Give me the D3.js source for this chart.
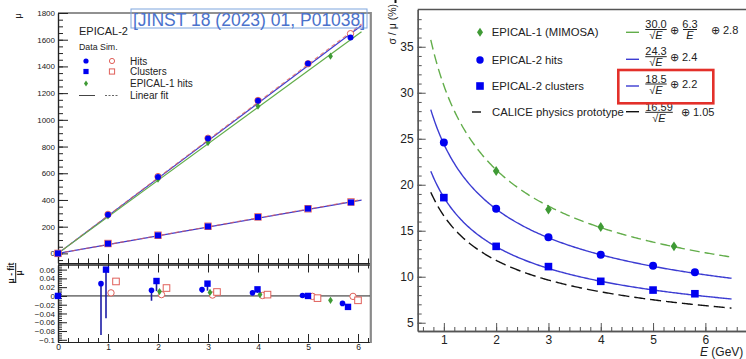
<!DOCTYPE html>
<html>
<head>
<meta charset="utf-8">
<script src="https://cdn.jsdelivr.net/npm/d3@7"></script>
<style>
  body { margin: 0; background: #fff; }
  svg { display: block; font-family: "Liberation Sans", Arial, Helvetica, sans-serif; }
  .ax path, .ax line { stroke: #222; }
  .axr path, .axr line { stroke: #555; }
</style>
</head>
<body>
<script>
// ---------- left panel: mean response mu vs E ----------
const hitsE = [1, 2, 3, 4, 5, 5.85];
const hitsMu = [290, 572, 860, 1142, 1422, 1617];
const simHitsMu = [292, 575, 862, 1145, 1420, 1645];
const clusE = [0, 1, 2, 3, 4, 5, 5.86];
const clusMu = [0, 73, 135, 202, 272, 335, 382];
const simClusMu = [0, 74, 136, 203, 273, 334, 385];
const ep1E = [1, 2, 3, 4, 5.45];
const ep1Mu = [280, 555, 830, 1102, 1477];
// linear fit slopes (mu per GeV): data hits, sim hits, EPICAL-1, data clusters, sim clusters
const fitSlopes = [281, 283, 273.5, 65.8, 66.3];
const fitEnd = 6.07;

// residuals (mu - fit)/mu, plotted at the shifted E positions
const resHitsE = [0.86, 1.87, 2.88, 3.89, 4.89, 5.69];
const resHits = [0.028, 0.013, 0.0145, 0.007, 0.001, -0.017];
const resHitsLo = [-0.089, -0.011, 0.007, 0.007, 0.001, -0.017];
const resClusE = [0, 0.96, 1.97, 2.99, 3.99, 5.0, 5.8];
const resClus = [0, 0.06, 0.034, 0.028, 0.015, 0, -0.025];
const resClusLo = [0, -0.051, 0.011, 0.012, 0.007, 0, -0.025];
const resEp1E = [2.03, 3.04, 4.04, 5.45];
const resEp1 = [0.01, 0.008, 0.003, -0.01];
const resSimHitsE = [1.06, 2.07, 3.09, 4.09, 5.09, 5.9];
const resSimHits = [0.007, 0.003, 0.002, 0.001, -0.001, -0.001];
const resSimClusE = [1.16, 2.17, 3.18, 4.19, 5.19, 6.0];
const resSimClus = [0.033, 0.018, 0.009, 0.003, -0.005, -0.01];

const muTicks = [0, 200, 400, 600, 800, 1000, 1200, 1400, 1600, 1800];
const resTicks = [-0.1, -0.08, -0.06, -0.04, -0.02, 0, 0.02, 0.04, 0.06];
const eTicksL = [0, 1, 2, 3, 4, 5, 6];

// ---------- right panel: resolution sigma/mu vs E ----------
const resE = [1, 2, 3, 4, 5, 5.8];
const resoHits = [24.6, 17.4, 14.3, 12.4, 11.2, 10.5];
const resoClus = [18.6, 13.3, 11.1, 9.5, 8.55, 8.15];
const resoEp1E = [2, 3, 4, 5.4];
const resoEp1 = [21.5, 17.3, 15.4, 13.3];
// fit parameters a/sqrt(E) (+) b/E (+) c
const fitNames = ["EPICAL-1 (MIMOSA)", "EPICAL-2 hits", "EPICAL-2 clusters", "CALICE physics prototype"];
const fitA = [30.0, 24.3, 18.5, 16.59];
const fitB = [6.3, 0, 0, 0];
const fitC = [2.8, 2.4, 2.2, 1.05];
const fitLabA = ["30.0", "24.3", "18.5", "16.59"];
const fitLabC = ["2.8", "2.4", "2.2", "1.05"];
const sigTicks = [5, 10, 15, 20, 25, 30, 35];
const eTicksR = [1, 2, 3, 4, 5, 6];

const BLUE = "#0000f0", LBLUE = "#3c3cd2", RED = "#e0605a", GREEN = "#3f9a35", LGREEN = "#62ad4a";
const intFmt = d3.format("d");

const svg = d3.select("body").append("svg").attr("width", 746).attr("height", 359);

function marker(g, type, x, y, s, color, open) {
  let el;
  if (type === "circle") el = g.append("circle").attr("cx", x).attr("cy", y).attr("r", s);
  else if (type === "square") el = g.append("rect").attr("x", x - s).attr("y", y - s).attr("width", 2 * s).attr("height", 2 * s);
  else el = g.append("path").attr("d", `M${x},${y - s * 1.5}L${x + s},${y}L${x},${y + s * 1.5}L${x - s},${y}Z`);
  if (open) el.attr("fill", "#fff").attr("stroke", color).attr("stroke-width", 1);
  else el.attr("fill", color);
  return el;
}

// ================= LEFT PANEL =================
const xL = d3.scaleLinear([0, 6.24], [58, 370]);
const yT = d3.scaleLinear([-72, 1800], [263, 13]);
const yR = d3.scaleLinear([-0.105, 0.0705], [342, 265]);
const L = svg.append("g");

// axes of upper pad
L.append("g").attr("class", "ax").attr("transform", "translate(58,0)")
  .call(d3.axisLeft(yT).tickValues(d3.range(-50, 1801, 50)).tickSize(-5).tickSizeOuter(0).tickFormat(""));
L.append("g").attr("class", "ax").attr("transform", "translate(58,0)")
  .call(d3.axisLeft(yT).tickValues(muTicks).tickSize(-10).tickSizeOuter(0).tickPadding(3).tickFormat(intFmt))
  .call(g => g.selectAll("text").attr("font-size", 8).attr("fill", "#222").attr("font-family", null));
L.append("g").attr("class", "ax").attr("transform", "translate(0,263)")
  .call(d3.axisBottom(xL).tickValues(d3.range(0, 6.21, 0.2)).tickSize(-4.5).tickSizeOuter(0).tickFormat(""));
L.append("g").attr("class", "ax").attr("transform", "translate(0,263)")
  .call(d3.axisBottom(xL).tickValues(eTicksL).tickSize(-9).tickSizeOuter(0).tickFormat(""));
L.append("line").attr("x1", 58).attr("x2", 370).attr("y1", 13).attr("y2", 13).attr("stroke", "#222");

// axes of residual pad
L.append("g").attr("class", "ax").attr("transform", "translate(58,0)")
  .call(d3.axisLeft(yR).tickValues(d3.range(-0.1, 0.0701, 0.005)).tickSize(-4).tickSizeOuter(0).tickFormat(""));
L.append("g").attr("class", "ax").attr("transform", "translate(58,0)")
  .call(d3.axisLeft(yR).tickValues(resTicks).tickSize(-9).tickSizeOuter(0).tickPadding(3).tickFormat(d => d3.format("~g")(d)))
  .call(g => g.selectAll("text").attr("font-size", 8).attr("fill", "#222").attr("font-family", null));
L.append("g").attr("class", "ax").attr("transform", "translate(0,264.5)")
  .call(d3.axisTop(xL).tickValues(d3.range(0, 6.21, 0.2)).tickSize(-4).tickSizeOuter(0).tickFormat(""));
L.append("g").attr("class", "ax").attr("transform", "translate(0,264.5)")
  .call(d3.axisTop(xL).tickValues(eTicksL).tickSize(-8).tickSizeOuter(0).tickFormat(""));
L.append("g").attr("class", "ax").attr("transform", "translate(0,342)")
  .call(d3.axisBottom(xL).tickValues(d3.range(0, 6.21, 0.2)).tickSize(-4).tickSizeOuter(0).tickFormat(""));
L.append("g").attr("class", "ax").attr("transform", "translate(0,342)")
  .call(d3.axisBottom(xL).tickValues(eTicksL).tickSize(-8).tickSizeOuter(0).tickPadding(2).tickFormat(intFmt))
  .call(g => g.selectAll("text").attr("font-size", 8.5).attr("fill", "#222").attr("font-family", null));
L.selectAll(".ax path").attr("stroke-width", 1.2);

// right border of the left panel
L.append("line").attr("x1", 370.8).attr("x2", 370.8).attr("y1", 12).attr("y2", 343)
  .attr("stroke", "#8a8a8a").attr("stroke-width", 2.2);

// axis titles
L.append("text").attr("transform", "translate(21,16) rotate(-90)").attr("text-anchor", "middle")
  .attr("font-size", 9).attr("fill", "#222").text("μ");
const rt = L.append("g").attr("transform", "translate(15.7,273) rotate(-90)");
rt.append("text").attr("y", -1.5).attr("text-anchor", "middle").attr("font-size", 8.5).attr("font-weight", "bold").attr("fill", "#222").text("μ - fit");
rt.append("line").attr("x1", -10).attr("x2", 10).attr("stroke", "#222").attr("stroke-width", 1);
rt.append("text").attr("y", 6.5).attr("text-anchor", "middle").attr("font-size", 8.5).attr("font-weight", "bold").attr("fill", "#222").text("μ");

// fit lines
const fitCol = [LBLUE, RED, LGREEN, LBLUE, RED];
const fitDash = [null, "4,3", null, null, "4,3"];
fitSlopes.forEach((s, i) => {
  L.append("line").attr("x1", xL(0)).attr("y1", yT(0)).attr("x2", xL(fitEnd)).attr("y2", yT(s * fitEnd))
    .attr("stroke", fitCol[i]).attr("stroke-width", 1.2).attr("stroke-dasharray", fitDash[i]).attr("opacity", i === 1 || i === 4 ? 0.75 : 1);
});
// markers upper pad
hitsE.forEach((e, i) => marker(L, "circle", xL(e), yT(simHitsMu[i]), 3.2, RED, true));
clusE.forEach((e, i) => marker(L, "square", xL(e), yT(simClusMu[i]), 3.2, RED, true));
ep1E.forEach((e, i) => marker(L, "diamond", xL(e), yT(ep1Mu[i]), 2.4, GREEN));
hitsE.forEach((e, i) => marker(L, "circle", xL(e), yT(hitsMu[i]), 3, BLUE));
clusE.forEach((e, i) => marker(L, "square", xL(e), yT(clusMu[i]), 3, BLUE));

// residual pad
L.append("line").attr("x1", 58).attr("x2", 370).attr("y1", yR(0)).attr("y2", yR(0)).attr("stroke", "#222").attr("stroke-width", 1);
resHitsE.forEach((e, i) => L.append("line").attr("x1", xL(e)).attr("x2", xL(e)).attr("y1", yR(resHits[i])).attr("y2", yR(resHitsLo[i]))
  .attr("stroke", "#1c1ca6").attr("stroke-width", 1.6));
resClusE.forEach((e, i) => L.append("line").attr("x1", xL(e)).attr("x2", xL(e)).attr("y1", yR(resClus[i])).attr("y2", yR(resClusLo[i]))
  .attr("stroke", "#1c1ca6").attr("stroke-width", 1.6));
resSimHitsE.forEach((e, i) => marker(L, "circle", xL(e), yR(resSimHits[i]), 3.2, RED, true));
resSimClusE.forEach((e, i) => marker(L, "square", xL(e), yR(resSimClus[i]), 3.3, RED, true));
resEp1E.forEach((e, i) => marker(L, "diamond", xL(e), yR(resEp1[i]), 2.4, GREEN));
resHitsE.forEach((e, i) => marker(L, "circle", xL(e), yR(resHits[i]), 2.8, BLUE));
resClusE.forEach((e, i) => marker(L, "square", xL(e), yR(resClus[i]), 3.2, BLUE));

// legend (left)
const lg = L.append("g").attr("fill", "#222");
lg.append("text").attr("x", 79).attr("y", 34.5).attr("font-size", 11).text("EPICAL-2");
lg.append("text").attr("x", 79).attr("y", 50).attr("font-size", 8.8).text("Data  Sim.");
const legRows = [61, 71.5, 83.5, 95.5];
const legText = ["Hits", "Clusters", "EPICAL-1 hits", "Linear fit"];
legText.forEach((t, i) => lg.append("text").attr("x", 130).attr("y", legRows[i] + 3.6).attr("font-size", 10).text(t));
marker(lg, "circle", 86, legRows[0], 2.6, BLUE);
marker(lg, "circle", 112, legRows[0], 2.6, RED, true);
marker(lg, "square", 86, legRows[1], 2.6, BLUE);
marker(lg, "square", 112, legRows[1], 2.6, RED, true);
marker(lg, "diamond", 86, legRows[2], 2, GREEN);
lg.append("line").attr("x1", 79).attr("x2", 95).attr("y1", legRows[3]).attr("y2", legRows[3]).attr("stroke", "#444");
lg.append("line").attr("x1", 105).attr("x2", 119).attr("y1", legRows[3]).attr("y2", legRows[3]).attr("stroke", "#666").attr("stroke-dasharray", "2,1.5");

// reference label
L.append("rect").attr("x", 131).attr("y", 9).attr("width", 236).attr("height", 19)
  .attr("fill", "none").attr("stroke", "#7ea6de").attr("stroke-width", 1);
L.append("text").attr("x", 133).attr("y", 25.5).attr("font-size", 17.5).attr("fill", "#4a72cc")
  .text("[JINST 18 (2023) 01, P01038]");

// ================= RIGHT PANEL =================
const xRt = d3.scaleLinear([0.5, 6.777], [417.7, 746]);
const yRt = d3.scaleLinear([4.1, 39.05], [331, 9.5]);
const R = svg.append("g");

R.append("g").attr("class", "axr").attr("transform", "translate(417.7,0)")
  .call(d3.axisLeft(yRt).tickValues(d3.range(5, 39, 1)).tickSize(-4).tickSizeOuter(0).tickFormat(""));
R.append("g").attr("class", "axr").attr("transform", "translate(417.7,0)")
  .call(d3.axisLeft(yRt).tickValues(sigTicks).tickSize(-8).tickSizeOuter(0).tickPadding(4).tickFormat(intFmt))
  .call(g => g.selectAll("text").attr("font-size", 12).attr("fill", "#222").attr("font-family", null));
R.append("g").attr("class", "axr").attr("transform", "translate(0,331)")
  .call(d3.axisBottom(xRt).tickValues(d3.range(0.6, 6.75, 0.2)).tickSize(-4).tickSizeOuter(0).tickFormat(""));
R.append("g").attr("class", "axr").attr("transform", "translate(0,331)")
  .call(d3.axisBottom(xRt).tickValues(eTicksR).tickSize(-8).tickSizeOuter(0).tickPadding(4).tickFormat(intFmt))
  .call(g => g.selectAll("text").attr("font-size", 12).attr("fill", "#222").attr("font-family", null));
R.selectAll(".axr path").attr("stroke-width", 1.3);
R.append("line").attr("x1", 417.7).attr("x2", 746).attr("y1", 9.5).attr("y2", 9.5).attr("stroke", "#555").attr("stroke-width", 1.3);

// titles
R.append("text").attr("transform", "translate(396,4) rotate(-90)").attr("text-anchor", "end")
  .attr("font-size", 10.5).attr("fill", "#222").text("σ / μ (%)");
R.append("text").attr("x", 700).attr("y", 356).attr("font-size", 12).attr("fill", "#222")
  .html('<tspan font-style="italic">E</tspan> (GeV)');
R.append("line").attr("x1", 395.5).attr("x2", 395.5).attr("y1", 0).attr("y2", 3).attr("stroke", "#111").attr("stroke-width", 2);

// fit curves
const curveCol = [LGREEN, LBLUE, LBLUE, "#111"];
const curveDash = ["10,5", null, null, "11,5"];
const curveE = d3.range(0.75, 6.51, 0.025);
const reso = (i, e) => Math.sqrt((fitA[i] / Math.sqrt(e)) ** 2 + (fitB[i] / e) ** 2 + fitC[i] ** 2);
const line = d3.line().x(d => xRt(d[0])).y(d => yRt(d[1]));
fitA.forEach((a, i) => {
  R.append("path").attr("d", line(curveE.map(e => [e, reso(i, e)])))
    .attr("fill", "none").attr("stroke", curveCol[i]).attr("stroke-width", 1.4).attr("stroke-dasharray", curveDash[i]);
});
resoEp1E.forEach((e, i) => marker(R, "diamond", xRt(e), yRt(resoEp1[i]), 3.3, GREEN));
resE.forEach((e, i) => marker(R, "circle", xRt(e), yRt(resoHits[i]), 4, BLUE));
resE.forEach((e, i) => marker(R, "square", xRt(e), yRt(resoClus[i]), 3.8, BLUE));

// legend (right)
const rg = R.append("g").attr("fill", "#222");
const rRows = [32.3, 60, 86, 112];
fitNames.forEach((t, i) => rg.append("text").attr("x", i === 3 ? 492 : 491.7).attr("y", rRows[i] + 4).attr("font-size", 11.3).text(t));
marker(rg, "diamond", 480, rRows[0], 3, GREEN);
marker(rg, "circle", 480, rRows[1], 3.7, BLUE);
marker(rg, "square", 480, rRows[2], 3.8, BLUE);
rg.append("line").attr("x1", 472).attr("x2", 481).attr("y1", rRows[3]).attr("y2", rRows[3]).attr("stroke", "#111").attr("stroke-width", 1.4);

// formulas
const fracX = [656, 656, 656, 659];
const barY = [29.5, 56.7, 84, 112.3];
const lineY = [32.3, 59.3, 86, 111.7];
fitA.forEach((a, i) => {
  rg.append("line").attr("x1", 626).attr("x2", 639).attr("y1", lineY[i]).attr("y2", lineY[i])
    .attr("stroke", curveCol[i]).attr("stroke-width", 1.4);
  const nt = rg.append("text").attr("x", fracX[i]).attr("y", barY[i] - 1.5).attr("text-anchor", "middle")
    .attr("font-size", 11).text(fitLabA[i]);
  const w = nt.node().getComputedTextLength();
  rg.append("line").attr("x1", fracX[i] - w / 2).attr("x2", fracX[i] + w / 2).attr("y1", barY[i]).attr("y2", barY[i])
    .attr("stroke", "#222").attr("stroke-width", 1);
  rg.append("text").attr("x", fracX[i]).attr("y", barY[i] + 9.5).attr("text-anchor", "middle").attr("font-size", 11)
    .html('√<tspan font-style="italic">E</tspan>');
  let x = fracX[i] + 14 + (i === 3 ? 8 : 0);
  if (fitB[i] > 0) {
    rg.append("text").attr("x", x).attr("y", barY[i] + 4).attr("font-size", 11).text("⊕");
    rg.append("text").attr("x", 690).attr("y", barY[i] - 1.5).attr("text-anchor", "middle").attr("font-size", 11).text(String(fitB[i]));
    rg.append("line").attr("x1", 683).attr("x2", 697).attr("y1", barY[i]).attr("y2", barY[i]).attr("stroke", "#222");
    rg.append("text").attr("x", 690).attr("y", barY[i] + 9.5).attr("text-anchor", "middle").attr("font-size", 11)
      .attr("font-style", "italic").text("E");
    x = 711;
  }
  rg.append("text").attr("x", x).attr("y", barY[i] + 4).attr("font-size", 11).text("⊕");
  rg.append("text").attr("x", x + 12).attr("y", barY[i] + 4).attr("font-size", 11).text(fitLabC[i]);
});
// highlight box
R.append("rect").attr("x", 618.3).attr("y", 70).attr("width", 95).attr("height", 33.3)
  .attr("fill", "none").attr("stroke", "#e3302a").attr("stroke-width", 2.6);
</script>
</body>
</html>
